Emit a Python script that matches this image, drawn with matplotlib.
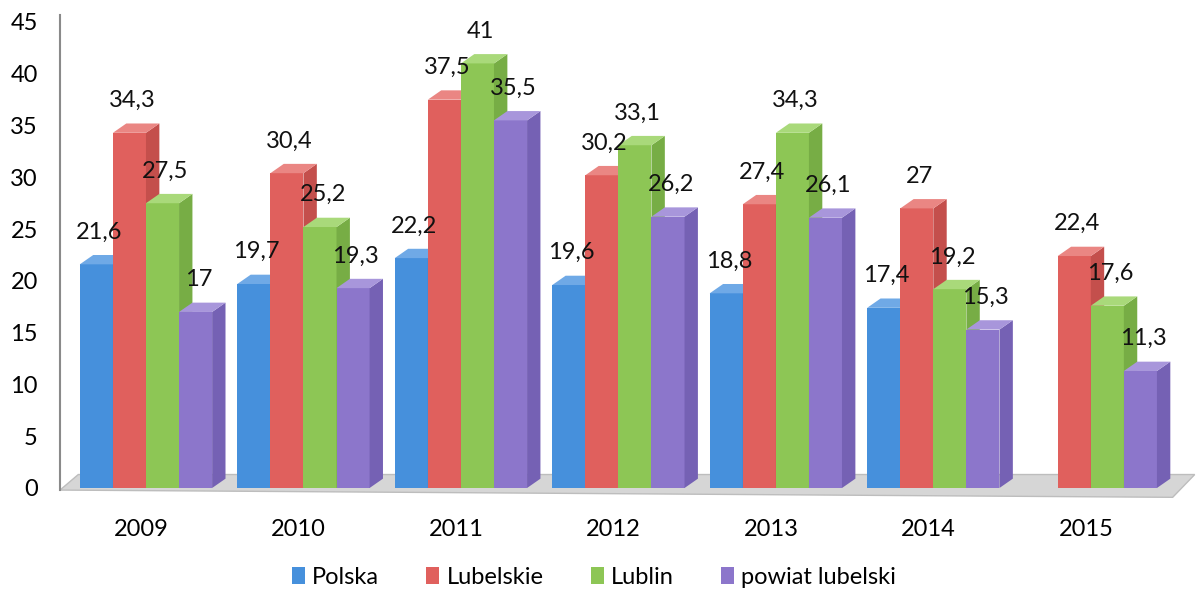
import matplotlib

matplotlib.use("Agg")
import matplotlib.pyplot as plt
import numpy as np
from matplotlib.patches import Polygon, Patch

plt.rcParams["font.family"] = ["Lato", "DejaVu Sans"]

years = ["2009", "2010", "2011", "2012", "2013", "2014", "2015"]
series = ["Polska", "Lubelskie", "Lublin", "powiat lubelski"]
polska = [21.6, 19.7, 22.2, 19.6, 18.8, 17.4, None]
lubelskie = [34.3, 30.4, 37.5, 30.2, 27.4, 27.0, 22.4]
lublin = [27.5, 25.2, 41.0, 33.1, 34.3, 19.2, 17.6]
powiat = [17.0, 19.3, 35.5, 26.2, 26.1, 15.3, 11.3]
yticks = list(range(0, 50, 5))

front = ["#4690DC", "#E0605D", "#8DC655", "#8C76CB"]
side = ["#3A78C0", "#C44F4C", "#77AD45", "#7561B4"]
top = ["#6FA9E6", "#EA8683", "#A9D97A", "#A896DB"]


def fmt(v):
    return f"{v:g}".replace(".", ",")


fig = plt.figure(figsize=(12.03, 5.91), dpi=100)
ax = fig.add_axes([60 / 1203, 103 / 591, 1130 / 1203, 466 / 591])
ax.set_xlim(-0.546, 6.63)
ax.set_ylim(0, 45)

x = np.arange(len(years))
width = 0.21
offsets = np.array([-1.5, -0.5, 0.5, 1.5]) * width
dx, dy = 0.085, 0.9  # fake 3d depth

# floor
floor = Polygon(
    [(-0.546, -0.2), (6.52, -0.9), (6.66, 1.3), (-0.43, 1.3)],
    closed=True, facecolor="#d6d6d6", edgecolor="#bdbdbd", lw=1.0,
    zorder=1, clip_on=False,
)
ax.add_patch(floor)

for k, vals in enumerate([polska, lubelskie, lublin, powiat]):
    for i, v in enumerate(vals):
        if v is None:
            continue
        x0 = x[i] + offsets[k] - width / 2
        x1 = x0 + width
        ax.bar(x0, v, width=width, align="edge", color=front[k],
               edgecolor="none", zorder=3 + k * 0.1)
        ax.add_patch(Polygon([(x1, 0), (x1 + dx, dy), (x1 + dx, v + dy), (x1, v)],
                             closed=True, facecolor=side[k], edgecolor="none",
                             zorder=3 + k * 0.1))
        ax.add_patch(Polygon([(x0, v), (x0 + dx, v + dy), (x1 + dx, v + dy), (x1, v)],
                             closed=True, facecolor=top[k], edgecolor="none",
                             zorder=3 + k * 0.1))
        ax.text(x0 + width / 2 + dx * 0.2, v + dy + 1.2, fmt(v), ha="center",
                va="bottom", fontsize=17, color="#111111", zorder=10)

ax.set_xticks(x - 0.03)
ax.set_xticklabels(years, fontsize=17)
ax.set_yticks(yticks)
ax.set_yticklabels([str(t) for t in yticks], fontsize=17)
ax.tick_params(axis="both", length=0)
ax.tick_params(axis="x", pad=22)
ax.tick_params(axis="y", pad=16)
for s in ["top", "right", "bottom"]:
    ax.spines[s].set_visible(False)
ax.spines["left"].set_color("#8a8a8a")
ax.spines["left"].set_linewidth(1.5)
ax.spines["left"].set_bounds(-0.2, 45.7)

handles = [Patch(facecolor=c, edgecolor="none") for c in front]
fig.legend(handles, series, loc="center", bbox_to_anchor=(594 / 1203, 1 - 577 / 591),
           ncol=4, frameon=False, fontsize=17, handlelength=0.55, handleheight=0.75,
           handletextpad=0.3, columnspacing=2.0)

fig.savefig("out.png", dpi=100)
